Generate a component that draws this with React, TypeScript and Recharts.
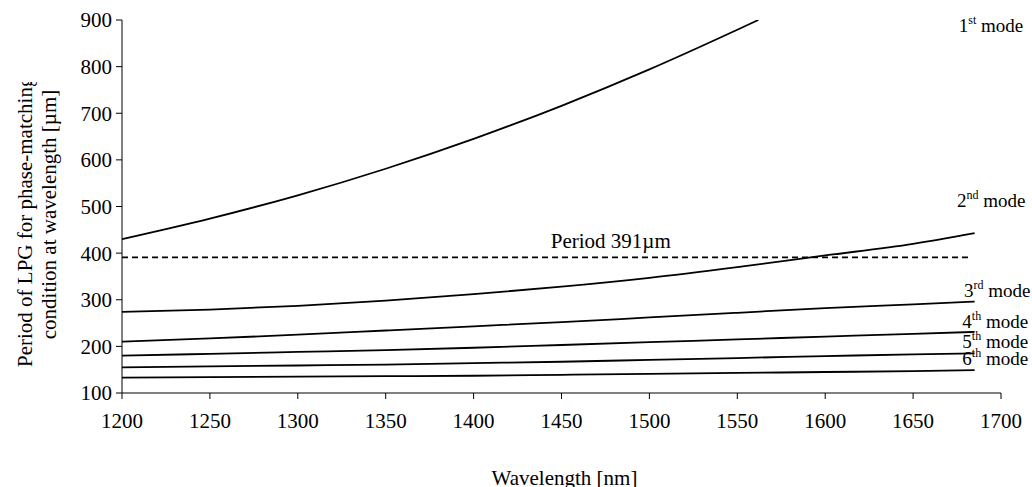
import React from "react";
import { LineChart, Line, XAxis, YAxis, ReferenceLine, ReferenceDot, Label } from "recharts";

const FONT = '"Liberation Serif", "Times New Roman", Times, serif';

// Wavelengths (nm)
const wavelengths = [1200, 1250, 1300, 1350, 1400, 1450, 1500, 1550, 1600, 1650, 1685];
const mode1Wavelengths = [1200, 1250, 1300, 1350, 1400, 1450, 1500, 1550, 1562];

// Periods (µm)
const mode1 = [430, 474, 524, 581, 645, 716, 794, 879, 900];
const mode2 = [274, 279, 287, 298, 312, 328, 347, 370, 395, 420, 443];
const mode3 = [210, 217, 225, 234, 243, 252, 262, 272, 282, 290, 296];
const mode4 = [180, 184, 188, 192, 197, 203, 209, 215, 221, 227, 231];
const mode5 = [155, 157, 159, 161, 164, 167, 171, 175, 179, 183, 185];
const mode6 = [133, 134, 135, 136, 137, 139, 141, 143, 145, 147, 149];

const xTicks = [1200, 1250, 1300, 1350, 1400, 1450, 1500, 1550, 1600, 1650, 1700];
const yTicks = [100, 200, 300, 400, 500, 600, 700, 800, 900];

const periodLine = 391;
const periodLineRange = [1200, 1683];
const periodLabel = "Period 391µm";
const periodLabelX = 1478;

const modeLabels = [
  { num: "1", sup: "st", x: 1676, y: 874 },
  { num: "2", sup: "nd", x: 1675, y: 499 },
  { num: "3", sup: "rd", x: 1679, y: 306 },
  { num: "4", sup: "th", x: 1678, y: 239 },
  { num: "5", sup: "th", x: 1678, y: 196 },
  { num: "6", sup: "th", x: 1678, y: 160 },
];

const yTitle1 = "Period of LPG for phase-matching";
const yTitle2 = "condition at wavelength [µm]";
const xTitle = "Wavelength [nm]";

const toRows = (xs: number[], ys: number[]) => xs.map((x, i) => ({ x, y: ys[i] }));
const series = [
  toRows(mode1Wavelengths, mode1),
  toRows(wavelengths, mode2),
  toRows(wavelengths, mode3),
  toRows(wavelengths, mode4),
  toRows(wavelengths, mode5),
  toRows(wavelengths, mode6),
];

const YTitle = (props: any) => {
  const vb = props.viewBox || { x: 0, y: 20, width: 122, height: 373 };
  const bottom = vb.y + vb.height - 26;
  const cy = vb.y + vb.height / 2 + 8;
  return (
    <g fontSize={21} fill="#000">
      <defs>
        <clipPath id="ytitle-clip" clipPathUnits="userSpaceOnUse">
          <rect x={0} y={82} width={122} height={400} />
        </clipPath>
      </defs>
      <g clipPath="url(#ytitle-clip)">
        <text x={32} y={bottom} textAnchor="start" transform={`rotate(-90, 32, ${bottom})`}>
          {yTitle1}
        </text>
      </g>
      <text x={56} y={cy} textAnchor="middle" transform={`rotate(-90, 56, ${cy})`}>
        {yTitle2}
      </text>
    </g>
  );
};

const XTitle = (props: any) => {
  const vb = props.viewBox || { x: 122, y: 393, width: 879, height: 94 };
  return (
    <text x={vb.x + vb.width / 2 + 3} y={vb.y + 92} textAnchor="middle" fontSize={21} fill="#000">
      {xTitle}
    </text>
  );
};

const ModeLabel = (num: string, sup: string) => (props: any) => (
  <text x={props.cx} y={props.cy} fontSize={19} fill="#000">
    <tspan>{num}</tspan>
    <tspan dy={-8} fontSize={12}>{sup}</tspan>
    <tspan dy={8}>{" mode"}</tspan>
  </text>
);

const PeriodText = (props: any) => (
  <text x={props.cx} y={props.cy - 9} textAnchor="middle" fontSize={21} fill="#000">
    {periodLabel}
  </text>
);

export default function App() {
  return (
    <div
      className="lpg-chart"
      style={{ position: "absolute", left: 0, top: 0, fontFamily: FONT, background: "#fff" }}
    >
      <style>{`.lpg-chart text, .lpg-chart tspan { font-family: ${FONT} !important; }`}</style>
      <LineChart width={1032} height={487} margin={{ top: 20, right: 31, bottom: 0, left: 0 }}>
        <XAxis
          type="number"
          dataKey="x"
          domain={[1200, 1700]}
          ticks={xTicks}
          interval={0}
          allowDataOverflow
          height={94}
          stroke="#000"
          tickSize={6}
          tickMargin={14}
          tick={{ fill: "#000", fontSize: 21 }}
          tickLine={{ stroke: "#000" }}
          label={<Label content={XTitle} />}
        />
        <YAxis
          type="number"
          dataKey="y"
          domain={[100, 900]}
          ticks={yTicks}
          interval={0}
          allowDataOverflow
          width={122}
          stroke="#000"
          tickSize={6}
          tickMargin={4}
          tick={{ fill: "#000", fontSize: 21 }}
          tickLine={{ stroke: "#000" }}
          label={<Label content={YTitle} />}
        />
        <ReferenceLine
          segment={[
            { x: periodLineRange[0], y: periodLine },
            { x: periodLineRange[1], y: periodLine },
          ]}
          stroke="#000"
          strokeWidth={1.8}
          strokeDasharray="6 4"
        />
        {series.map((d, i) => (
          <Line
            key={i}
            data={d}
            dataKey="y"
            type="monotone"
            stroke="#000"
            strokeWidth={1.8}
            dot={false}
            activeDot={false}
            isAnimationActive={false}
          />
        ))}
        <ReferenceDot x={periodLabelX} y={periodLine} r={0} shape={PeriodText} />
        {modeLabels.map((m, i) => (
          <ReferenceDot key={i} x={m.x} y={m.y} r={0} shape={ModeLabel(m.num, m.sup)} />
        ))}
      </LineChart>
    </div>
  );
}
